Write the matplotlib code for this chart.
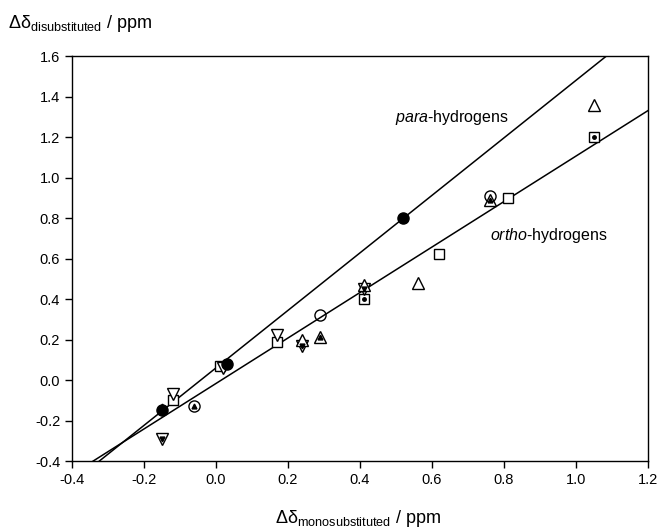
import numpy as np
import matplotlib
matplotlib.use('Agg')
import matplotlib.pyplot as plt

plt.rcParams['font.family'] = ['Liberation Sans', 'DejaVu Sans']
plt.rcParams['mathtext.fontset'] = 'custom'
plt.rcParams['mathtext.rm'] = 'Liberation Sans'
plt.rcParams['mathtext.it'] = 'Liberation Sans:italic'

##### DATA #####
# para-hydrogens (filled circles)
para_x = [-0.15, 0.03, 0.52]
para_y = [-0.15, 0.08, 0.80]

# ortho-hydrogens, one list per symbol
circ_x = [-0.06, 0.29, 0.76]
circ_y = [-0.13, 0.32, 0.91]
sq_x = [-0.12, 0.01, 0.17, 0.62, 0.81]
sq_y = [-0.10, 0.07, 0.19, 0.62, 0.90]
sqdot_x = [0.41, 1.05]
sqdot_y = [0.40, 1.20]
tup_x = [0.24, 0.29, 0.41, 0.56, 0.76, 1.05]
tup_y = [0.20, 0.21, 0.47, 0.48, 0.89, 1.36]
tdn_x = [-0.15, -0.12, 0.02, 0.17, 0.24, 0.41]
tdn_y = [-0.29, -0.07, 0.06, 0.22, 0.17, 0.45]
# small filled symbols sitting inside the open ones
inup_x = [-0.15, -0.06, 0.29, 0.76]
inup_y = [-0.13, -0.13, 0.21, 0.89]
indn_x = [-0.15, 0.24, 0.41]
indn_y = [-0.29, 0.17, 0.45]

# regression lines (slope, intercept)
para_fit = (1.42, 0.06)
ortho_fit = (1.123, -0.017)

##### PLOT #####
fig = plt.figure(figsize=(6.63, 5.31), dpi=100)
ax = fig.add_axes([0.1086, 0.1318, 0.8688, 0.7627])

xl = np.array([-0.4, 1.2])
for slope, icpt in [para_fit, ortho_fit]:
    ax.plot(xl, slope * xl + icpt, color='black', lw=1.1, zorder=1)

open_kw = dict(ls='none', mfc='white', mec='black', mew=1.0, zorder=3)
ax.plot(sq_x, sq_y, marker='s', ms=7, **open_kw)
ax.plot(sqdot_x, sqdot_y, marker='s', ms=7, **open_kw)
ax.plot(sqdot_x, sqdot_y, marker='o', ms=2.5, ls='none', color='black', zorder=4)
ax.plot(tdn_x, tdn_y, marker='v', ms=8, **open_kw)
ax.plot(tup_x, tup_y, marker='^', ms=8, **open_kw)
ax.plot(circ_x, circ_y, marker='o', ms=8, ls='none', mfc='none', mec='black', mew=1.0, zorder=4)
ax.plot(inup_x, inup_y, marker='^', ms=3.5, ls='none', color='black', zorder=5)
ax.plot(indn_x, indn_y, marker='v', ms=3.5, ls='none', color='black', zorder=5)
ax.plot(para_x, para_y, marker='o', ms=8, ls='none', color='black', zorder=6)

ax.set_xlim(-0.4, 1.2)
ax.set_ylim(-0.4, 1.6)
ax.set_xticks(np.arange(-0.4, 1.21, 0.2))
ax.set_yticks(np.arange(-0.4, 1.61, 0.2))
ax.xaxis.set_major_formatter(matplotlib.ticker.FormatStrFormatter('%.1f'))
ax.yaxis.set_major_formatter(matplotlib.ticker.FormatStrFormatter('%.1f'))
ax.tick_params(direction='out', length=5, width=1, labelsize=10.5)
for sp in ax.spines.values():
    sp.set_linewidth(1)

ax.text(0.497, 1.294, r'$\it{para}$-hydrogens', fontsize=11.5, ha='left', va='center')
ax.text(0.761, 0.716, r'$\it{ortho}$-hydrogens', fontsize=11.5, ha='left', va='center')

fig.text(0.012, 0.955, 'Δδ$_{\\mathrm{disubstituted}}$ / ppm', fontsize=13, ha='left', va='center')
fig.text(0.54, 0.024, 'Δδ$_{\\mathrm{monosubstituted}}$ / ppm', fontsize=13, ha='center', va='center')

fig.savefig('out.png', dpi=100)
